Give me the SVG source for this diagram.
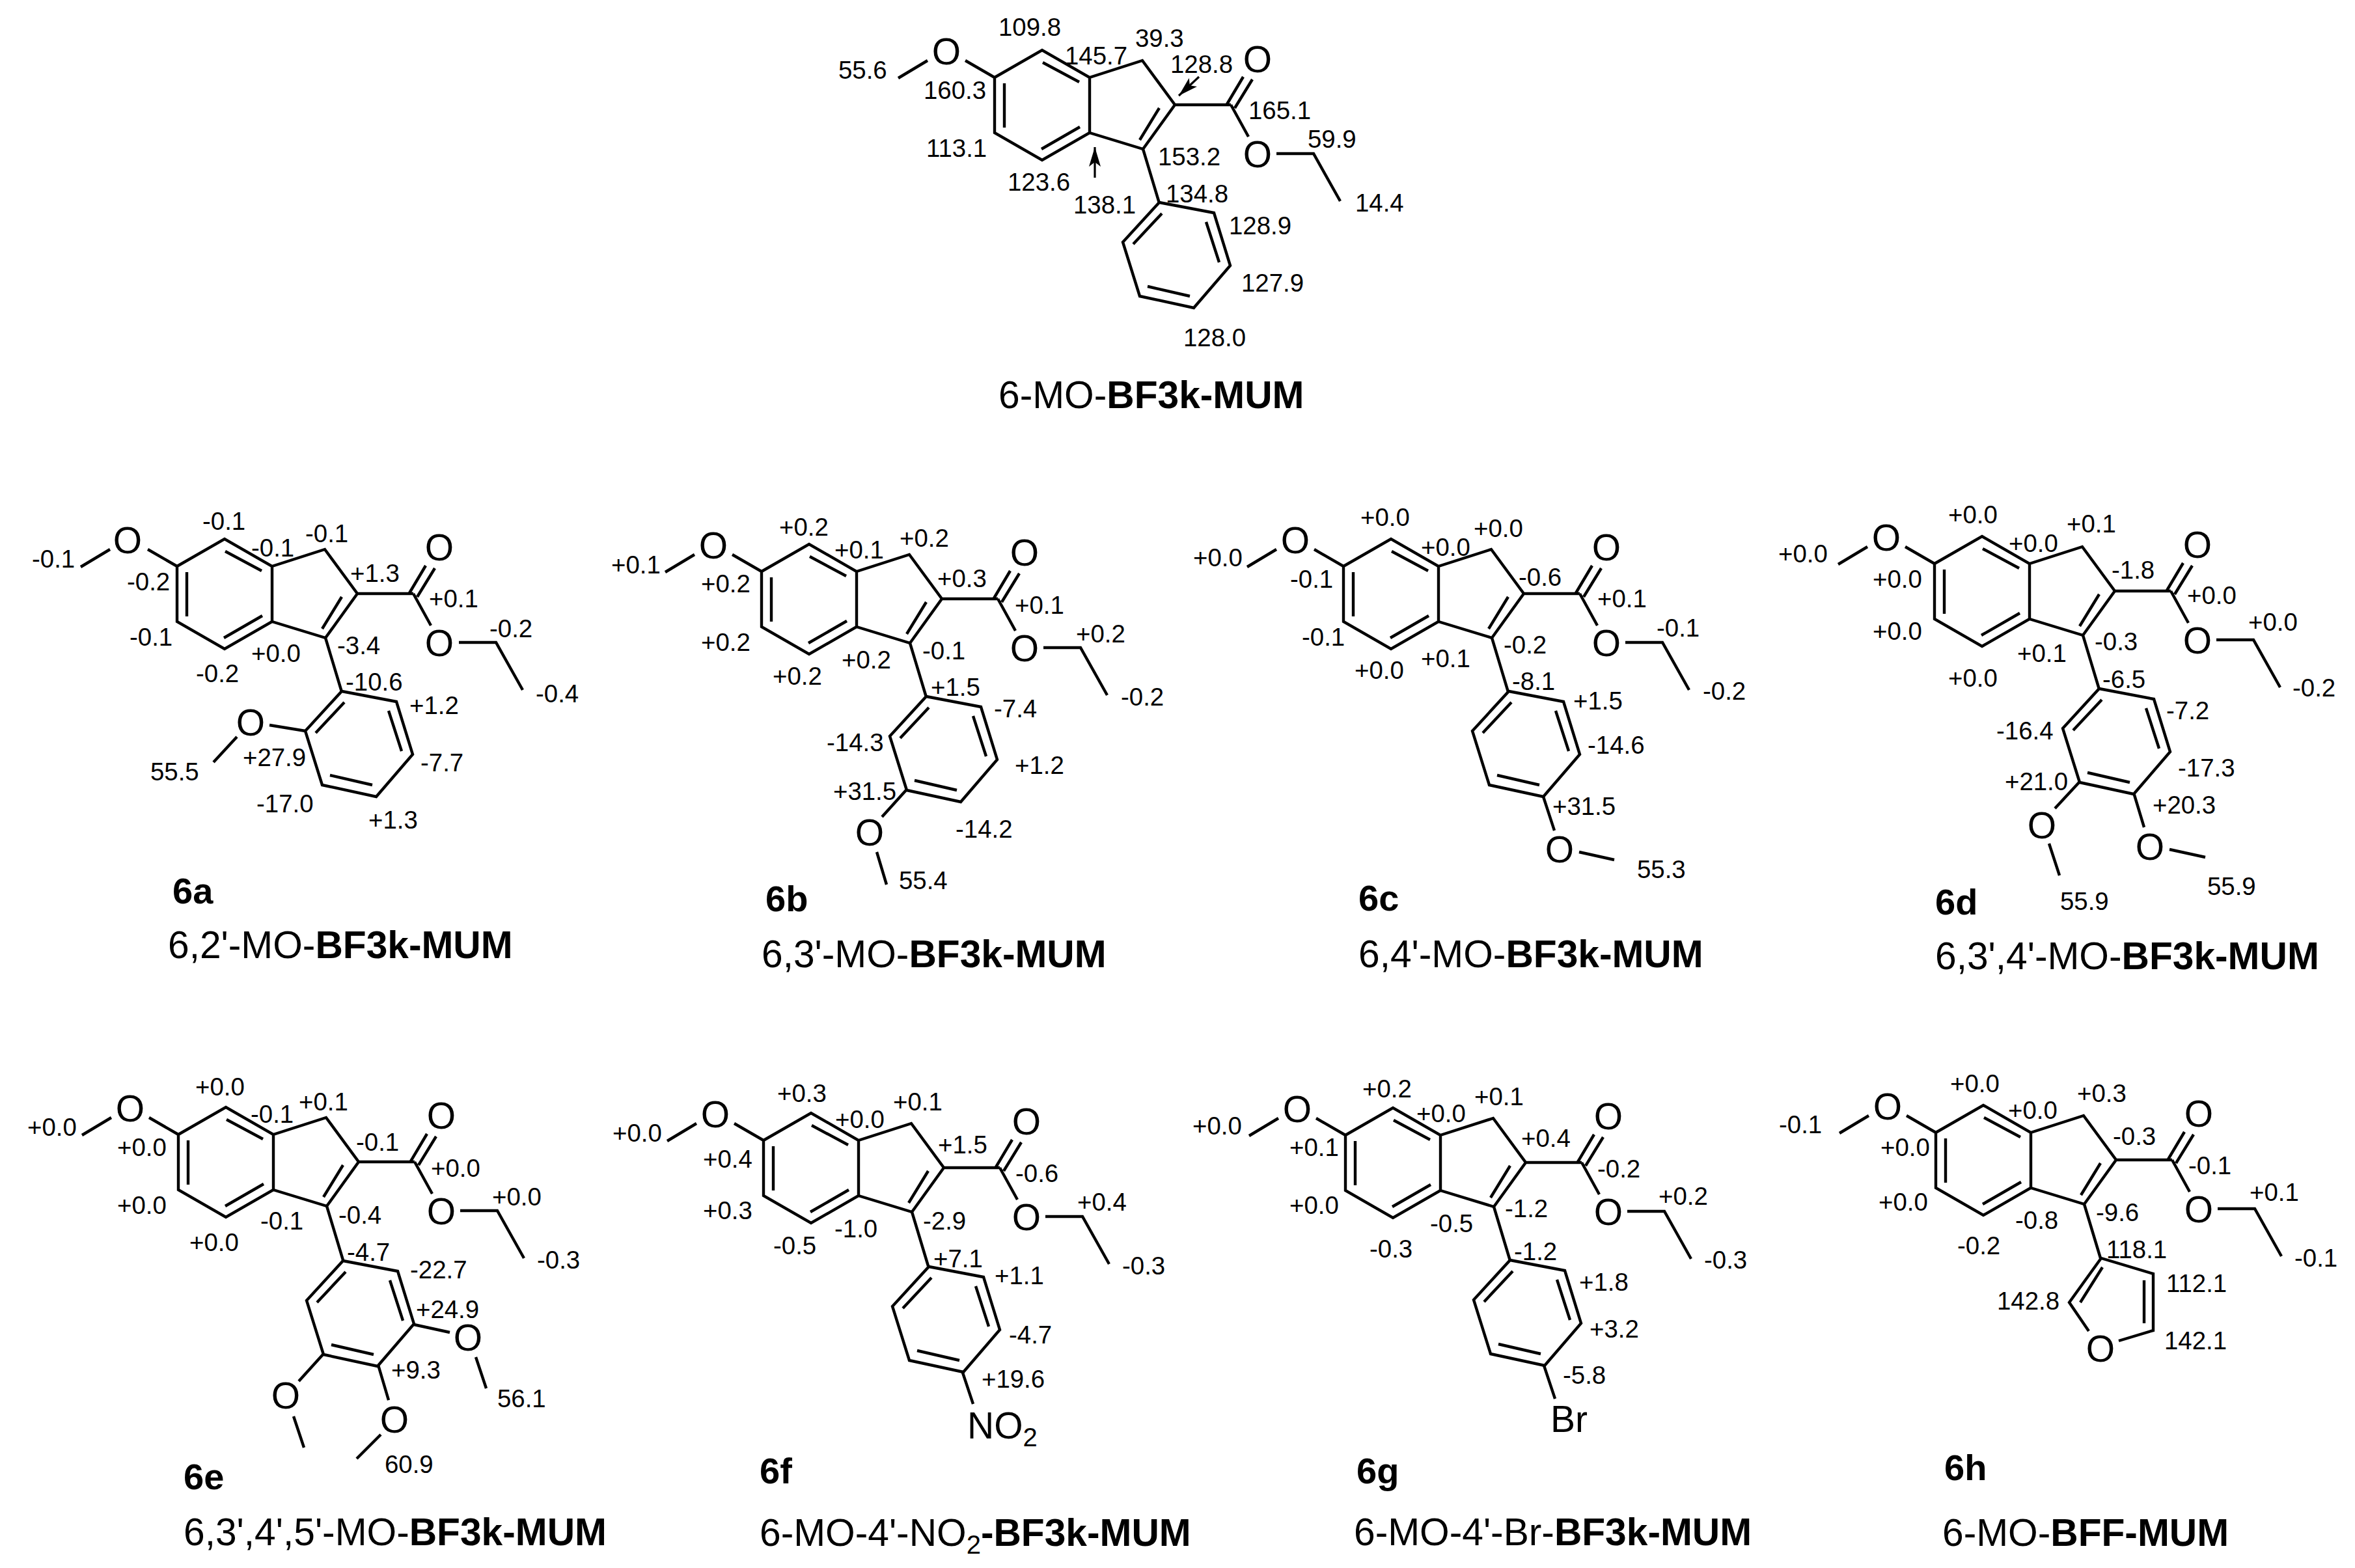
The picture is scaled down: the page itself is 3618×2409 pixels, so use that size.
<svg xmlns="http://www.w3.org/2000/svg" width="3618" height="2409" viewBox="0 0 3618 2409">
<style>
text{font-family:"Liberation Sans",Arial,sans-serif;fill:#000}
.l{font-size:38.4px}
.a{font-size:57px;text-anchor:middle}
.e{font-size:57px}
.s{font-size:40px}
.c{font-size:56px;font-weight:bold}
.t{font-size:58.7px}
.bd{font-weight:bold}
.b{fill:none;stroke:#000;stroke-width:4.4;stroke-linejoin:miter}
.n{fill:none;stroke:#000;stroke-width:3.2}
</style>
<defs>
<marker id="head" markerUnits="userSpaceOnUse" markerWidth="30" markerHeight="18" refX="30" refY="9" orient="auto"><path d="M0 0L30 9L0 18L7 9z" fill="#000"/></marker>
<path id="core" class="b" d="M0 0L73-42 146 0V85L73 127 0 85Z M15 9V77 M74-23L130 7 M72 110L131 76 M146 0L227-26 277 42 228 110 146 85 M253 47L223 96 M277 42H363 M357 41L382-1 M369 47L396 3 M363 42L390 91 M433 117H490L531 190 M0 0L-45-26 M-103-26L-148 1 M228 110L253 193"/>
<path id="aryl" class="b" d="M0 0L84 16 109 97 53 162-30 144-56 61Z M4 17L-40 64 M72 30L92 92 M-18 129L47 144"/>
</defs>
<rect width="3618" height="2409" fill="#fff"/>

<g id="mol-parent">
<use href="#core" x="1528" y="119"/><use href="#aryl" x="1781" y="311"/>
<path class="n" d="M1842 118L1811 147" marker-end="url(#head)"/>
<path class="n" d="M1682 273V226" marker-end="url(#head)"/>
<text class="a" x="1454" y="99">O</text><text class="a" x="1932" y="111">O</text><text class="a" x="1932" y="257">O</text>
<text class="l" x="1288" y="121">55.6</text><text class="l" x="1534" y="55">109.8</text><text class="l" x="1744" y="72">39.3</text><text class="l" x="1636" y="99">145.7</text><text class="l" x="1798" y="112">128.8</text><text class="l" x="1419" y="152">160.3</text><text class="l" x="1918" y="183">165.1</text><text class="l" x="2009" y="227">59.9</text><text class="l" x="1779" y="254">153.2</text><text class="l" x="1423" y="241">113.1</text><text class="l" x="1548" y="293">123.6</text><text class="l" x="1791" y="311">134.8</text><text class="l" x="1649" y="328">138.1</text><text class="l" x="2082" y="325">14.4</text><text class="l" x="1888" y="360">128.9</text><text class="l" x="1907" y="448">127.9</text><text class="l" x="1818" y="532">128.0</text>
<text class="t" x="1534" y="627">6-MO-<tspan class="bd">BF3k-MUM</tspan></text>
</g>

<g id="mol-6a">
<use href="#core" x="272" y="870"/><use href="#aryl" x="525" y="1062"/>
<path class="b" d="M469 1123L414 1114 M364 1132L328 1171"/>
<text class="a" x="196" y="850">O</text><text class="a" x="675" y="861">O</text><text class="a" x="675" y="1008">O</text><text class="a" x="385" y="1130">O</text>
<text class="l" x="311" y="814">-0.1</text><text class="l" x="49" y="872">-0.1</text><text class="l" x="386" y="855">-0.1</text><text class="l" x="469" y="833">-0.1</text><text class="l" x="195" y="907">-0.2</text><text class="l" x="538" y="894">+1.3</text><text class="l" x="659" y="933">+0.1</text><text class="l" x="752" y="979">-0.2</text><text class="l" x="199" y="992">-0.1</text><text class="l" x="518" y="1005">-3.4</text><text class="l" x="386" y="1017">+0.0</text><text class="l" x="301" y="1048">-0.2</text><text class="l" x="531" y="1061">-10.6</text><text class="l" x="823" y="1079">-0.4</text><text class="l" x="629" y="1097">+1.2</text><text class="l" x="231" y="1199">55.5</text><text class="l" x="373" y="1177">+27.9</text><text class="l" x="646" y="1185">-7.7</text><text class="l" x="394" y="1248">-17.0</text><text class="l" x="566" y="1273">+1.3</text>
<text class="c" x="265" y="1388">6a</text>
<text class="t" x="258" y="1472">6,2'-MO-<tspan class="bd">BF3k-MUM</tspan></text>
</g>

<g id="mol-6b">
<use href="#core" x="1170" y="878"/><use href="#aryl" x="1423" y="1070"/>
<path class="b" d="M1392 1214L1355 1255 M1347 1309L1362 1359"/>
<text class="a" x="1096" y="858">O</text><text class="a" x="1574" y="869">O</text><text class="a" x="1574" y="1016">O</text><text class="a" x="1336" y="1299">O</text>
<text class="l" x="939" y="881">+0.1</text><text class="l" x="1197" y="823">+0.2</text><text class="l" x="1282" y="858">+0.1</text><text class="l" x="1382" y="840">+0.2</text><text class="l" x="1077" y="910">+0.2</text><text class="l" x="1440" y="902">+0.3</text><text class="l" x="1559" y="943">+0.1</text><text class="l" x="1653" y="987">+0.2</text><text class="l" x="1077" y="1000">+0.2</text><text class="l" x="1417" y="1013">-0.1</text><text class="l" x="1293" y="1027">+0.2</text><text class="l" x="1187" y="1052">+0.2</text><text class="l" x="1430" y="1069">+1.5</text><text class="l" x="1722" y="1084">-0.2</text><text class="l" x="1527" y="1102">-7.4</text><text class="l" x="1270" y="1154">-14.3</text><text class="l" x="1559" y="1189">+1.2</text><text class="l" x="1280" y="1229">+31.5</text><text class="l" x="1468" y="1287">-14.2</text><text class="l" x="1381" y="1366">55.4</text>
<text class="c" x="1176" y="1400">6b</text>
<text class="t" x="1170" y="1486">6,3'-MO-<tspan class="bd">BF3k-MUM</tspan></text>
</g>

<g id="mol-6c">
<use href="#core" x="2064" y="870"/><use href="#aryl" x="2318" y="1062"/>
<path class="b" d="M2371 1224L2388 1276 M2426 1309L2480 1321"/>
<text class="a" x="1990" y="850">O</text><text class="a" x="2468" y="861">O</text><text class="a" x="2468" y="1008">O</text><text class="a" x="2396" y="1325">O</text>
<text class="l" x="1833" y="870">+0.0</text><text class="l" x="2090" y="808">+0.0</text><text class="l" x="2183" y="854">+0.0</text><text class="l" x="2264" y="825">+0.0</text><text class="l" x="1982" y="903">-0.1</text><text class="l" x="2333" y="900">-0.6</text><text class="l" x="2454" y="933">+0.1</text><text class="l" x="2545" y="978">-0.1</text><text class="l" x="2000" y="992">-0.1</text><text class="l" x="2310" y="1004">-0.2</text><text class="l" x="2183" y="1025">+0.1</text><text class="l" x="2081" y="1043">+0.0</text><text class="l" x="2323" y="1060">-8.1</text><text class="l" x="2616" y="1075">-0.2</text><text class="l" x="2417" y="1090">+1.5</text><text class="l" x="2439" y="1158">-14.6</text><text class="l" x="2385" y="1252">+31.5</text><text class="l" x="2515" y="1349">55.3</text>
<text class="c" x="2087" y="1399">6c</text>
<text class="t" x="2087" y="1486">6,4'-MO-<tspan class="bd">BF3k-MUM</tspan></text>
</g>

<g id="mol-6d">
<use href="#core" x="2972" y="866"/><use href="#aryl" x="3225" y="1058"/>
<path class="b" d="M3195 1201L3157 1242 M3148 1296L3164 1345 M3278 1218L3294 1271 M3333 1305L3388 1317"/>
<text class="a" x="2898" y="846">O</text><text class="a" x="3376" y="857">O</text><text class="a" x="3376" y="1004">O</text><text class="a" x="3137" y="1288">O</text><text class="a" x="3303" y="1321">O</text>
<text class="l" x="2993" y="804">+0.0</text><text class="l" x="2732" y="864">+0.0</text><text class="l" x="3175" y="818">+0.1</text><text class="l" x="3086" y="848">+0.0</text><text class="l" x="3244" y="889">-1.8</text><text class="l" x="2877" y="903">+0.0</text><text class="l" x="3360" y="928">+0.0</text><text class="l" x="3454" y="969">+0.0</text><text class="l" x="2877" y="983">+0.0</text><text class="l" x="3218" y="999">-0.3</text><text class="l" x="3099" y="1017">+0.1</text><text class="l" x="2993" y="1055">+0.0</text><text class="l" x="3230" y="1057">-6.5</text><text class="l" x="3522" y="1070">-0.2</text><text class="l" x="3328" y="1105">-7.2</text><text class="l" x="3067" y="1136">-16.4</text><text class="l" x="3346" y="1193">-17.3</text><text class="l" x="3080" y="1214">+21.0</text><text class="l" x="3307" y="1250">+20.3</text><text class="l" x="3391" y="1375">55.9</text><text class="l" x="3165" y="1398">55.9</text>
<text class="c" x="2973" y="1405">6d</text>
<text class="t" x="2973" y="1489">6,3',4'-MO-<tspan class="bd">BF3k-MUM</tspan></text>
</g>

<g id="mol-6e">
<use href="#core" x="274" y="1743"/><use href="#aryl" x="527" y="1937"/>
<path class="b" d="M636 2035L691 2047 M731 2085L747 2133 M581 2097L597 2151 M585 2204L548 2241 M497 2080L459 2122 M451 2176L467 2224"/>
<text class="a" x="200" y="1723">O</text><text class="a" x="678" y="1734">O</text><text class="a" x="678" y="1881">O</text><text class="a" x="719" y="2075">O</text><text class="a" x="606" y="2201">O</text><text class="a" x="439" y="2164">O</text>
<text class="l" x="300" y="1683">+0.0</text><text class="l" x="42" y="1745">+0.0</text><text class="l" x="385" y="1725">-0.1</text><text class="l" x="459" y="1706">+0.1</text><text class="l" x="547" y="1768">-0.1</text><text class="l" x="180" y="1776">+0.0</text><text class="l" x="662" y="1808">+0.0</text><text class="l" x="756" y="1852">+0.0</text><text class="l" x="180" y="1865">+0.0</text><text class="l" x="520" y="1880">-0.4</text><text class="l" x="400" y="1889">-0.1</text><text class="l" x="291" y="1922">+0.0</text><text class="l" x="533" y="1937">-4.7</text><text class="l" x="825" y="1949">-0.3</text><text class="l" x="630" y="1964">-22.7</text><text class="l" x="639" y="2025">+24.9</text><text class="l" x="601" y="2118">+9.3</text><text class="l" x="764" y="2162">56.1</text><text class="l" x="591" y="2263">60.9</text>
<text class="c" x="282" y="2288">6e</text>
<text class="t" x="282" y="2374">6,3',4',5'-MO-<tspan class="bd">BF3k-MUM</tspan></text>
</g>

<g id="mol-6f">
<use href="#core" x="1173" y="1752"/><use href="#aryl" x="1427" y="1946"/>
<path class="b" d="M1478 2106L1495 2157"/>
<text class="a" x="1099" y="1732">O</text><text class="a" x="1577" y="1743">O</text><text class="a" x="1577" y="1890">O</text>
<text class="l" x="1194" y="1693">+0.3</text><text class="l" x="941" y="1754">+0.0</text><text class="l" x="1372" y="1706">+0.1</text><text class="l" x="1283" y="1733">+0.0</text><text class="l" x="1441" y="1772">+1.5</text><text class="l" x="1080" y="1794">+0.4</text><text class="l" x="1560" y="1816">-0.6</text><text class="l" x="1655" y="1860">+0.4</text><text class="l" x="1080" y="1873">+0.3</text><text class="l" x="1418" y="1889">-2.9</text><text class="l" x="1282" y="1901">-1.0</text><text class="l" x="1188" y="1927">-0.5</text><text class="l" x="1434" y="1947">+7.1</text><text class="l" x="1724" y="1958">-0.3</text><text class="l" x="1528" y="1973">+1.1</text><text class="l" x="1550" y="2064">-4.7</text><text class="l" x="1508" y="2132">+19.6</text>
<text class="e" x="1486" y="2210">NO<tspan class="s" dy="12">2</tspan></text>
<text class="c" x="1167" y="2279">6f</text>
<text class="t" x="1167" y="2375">6-MO-4'-NO<tspan class="s" dy="12">2</tspan><tspan class="bd" dy="-12">-BF3k-MUM</tspan></text>
</g>

<g id="mol-6g">
<use href="#core" x="2067" y="1744"/><use href="#aryl" x="2320" y="1936"/>
<path class="b" d="M2372 2098L2389 2149"/>
<text class="a" x="1993" y="1724">O</text><text class="a" x="2471" y="1735">O</text><text class="a" x="2471" y="1882">O</text>
<text class="l" x="2093" y="1686">+0.2</text><text class="l" x="2265" y="1698">+0.1</text><text class="l" x="2176" y="1724">+0.0</text><text class="l" x="1832" y="1743">+0.0</text><text class="l" x="2337" y="1762">+0.4</text><text class="l" x="1981" y="1776">+0.1</text><text class="l" x="2454" y="1809">-0.2</text><text class="l" x="2548" y="1851">+0.2</text><text class="l" x="1981" y="1865">+0.0</text><text class="l" x="2312" y="1870">-1.2</text><text class="l" x="2197" y="1893">-0.5</text><text class="l" x="2104" y="1932">-0.3</text><text class="l" x="2326" y="1936">-1.2</text><text class="l" x="2618" y="1949">-0.3</text><text class="l" x="2426" y="1983">+1.8</text><text class="l" x="2442" y="2055">+3.2</text><text class="l" x="2401" y="2126">-5.8</text>
<text class="e" x="2382" y="2200">Br</text>
<text class="c" x="2084" y="2279">6g</text>
<text class="t" x="2080" y="2374">6-MO-4'-Br-<tspan class="bd">BF3k-MUM</tspan></text>
</g>

<g id="mol-6h">
<use href="#core" x="2974" y="1740"/>
<path class="b" d="M3209 2045L3179 2001 3228 1933 3308 1957V2044L3255 2060 M3230 1947L3196 2001 M3294 1967V2033"/>
<text class="a" x="2900" y="1720">O</text><text class="a" x="3378" y="1731">O</text><text class="a" x="3378" y="1878">O</text><text class="a" x="3227" y="2092">O</text>
<text class="l" x="2996" y="1678">+0.0</text><text class="l" x="3191" y="1693">+0.3</text><text class="l" x="3085" y="1719">+0.0</text><text class="l" x="2733" y="1741">-0.1</text><text class="l" x="3246" y="1759">-0.3</text><text class="l" x="2889" y="1776">+0.0</text><text class="l" x="3362" y="1804">-0.1</text><text class="l" x="3456" y="1845">+0.1</text><text class="l" x="2886" y="1860">+0.0</text><text class="l" x="3220" y="1876">-9.6</text><text class="l" x="3096" y="1888">-0.8</text><text class="l" x="3007" y="1927">-0.2</text><text class="l" x="3236" y="1933">118.1</text><text class="l" x="3525" y="1946">-0.1</text><text class="l" x="3328" y="1985">112.1</text><text class="l" x="3068" y="2012">142.8</text><text class="l" x="3325" y="2073">142.1</text>
<text class="c" x="2987" y="2274">6h</text>
<text class="t" x="2984" y="2375">6-MO-<tspan class="bd">BFF-MUM</tspan></text>
</g>
</svg>
